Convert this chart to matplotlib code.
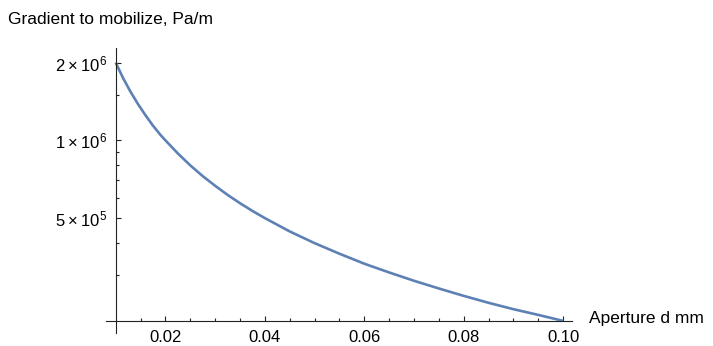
import numpy as np
import matplotlib
matplotlib.use("Agg")
import matplotlib.pyplot as plt
from matplotlib.ticker import FixedLocator, NullFormatter

plt.rcParams['font.family'] = ['Liberation Sans', 'DejaVu Sans']
plt.rcParams['mathtext.fontset'] = 'custom'
plt.rcParams['mathtext.rm'] = 'Liberation Sans'

# values
aperture = [0.010, 0.0115, 0.013, 0.0145, 0.016, 0.0175, 0.019, 0.020, 0.0225, 0.025,
            0.0275, 0.030, 0.0325, 0.035, 0.0375, 0.040, 0.045, 0.050, 0.055, 0.060,
            0.065, 0.070, 0.075, 0.080, 0.085, 0.090, 0.095, 0.100]
gradient = [2.00e6, 1.74e6, 1.54e6, 1.38e6, 1.25e6, 1.14e6, 1.05e6, 1.00e6, 8.9e5, 8.0e5,
            7.27e5, 6.67e5, 6.15e5, 5.71e5, 5.33e5, 5.00e5, 4.44e5, 4.00e5, 3.64e5, 3.33e5,
            3.08e5, 2.86e5, 2.67e5, 2.50e5, 2.35e5, 2.22e5, 2.11e5, 2.00e5]

x_major = [0.02, 0.04, 0.06, 0.08, 0.10]
x_major_labels = ['0.02', '0.04', '0.06', '0.08', '0.10']
x_minor = [0.015, 0.025, 0.03, 0.035, 0.045, 0.05, 0.055, 0.065, 0.07, 0.075, 0.085, 0.09, 0.095]
y_major = [5e5, 1e6, 2e6]
y_major_labels = [r'$\mathregular{5\times10^{5}}$', r'$\mathregular{1\times10^{6}}$',
                  r'$\mathregular{2\times10^{6}}$']
y_minor = [3e5, 4e5, 6e5, 7e5, 8e5, 9e5, 1.5e6]

fig = plt.figure(figsize=(7.13, 3.46), dpi=100)
ax = fig.add_axes([0.1482, 0.0376, 0.8018 - 0.1482, 0.8613 - 0.0376])

ax.plot(aperture, gradient, color='#5E81B5', lw=1.9, solid_capstyle='butt')

ax.set_yscale('log')
ax.set_xlim(0.00799, 0.1017)
ax.set_ylim(1.796e5, 2.277e6)

for s in ['top', 'right']:
    ax.spines[s].set_visible(False)
ax.spines['left'].set_position(('data', 0.01))
ax.spines['bottom'].set_position(('data', 2e5))
for s in ['left', 'bottom']:
    ax.spines[s].set_color('#222222')
    ax.spines[s].set_linewidth(0.8)

ax.xaxis.set_major_locator(FixedLocator(x_major))
ax.set_xticklabels(x_major_labels)
ax.xaxis.set_minor_locator(FixedLocator(x_minor))
ax.xaxis.set_minor_formatter(NullFormatter())
ax.yaxis.set_major_locator(FixedLocator(y_major))
ax.set_yticklabels(y_major_labels)
ax.yaxis.set_minor_locator(FixedLocator(y_minor))
ax.yaxis.set_minor_formatter(NullFormatter())

ax.tick_params(which='major', direction='in', length=3.6, width=0.8, color='#222222',
               labelsize=12, pad=6.5)
ax.tick_params(which='minor', direction='in', length=2.0, width=0.8, color='#222222')
ax.tick_params(axis='y', which='major', pad=6.5)

fig.text(8 / 713, 1 - 20 / 346, 'Gradient to mobilize, Pa/m', fontsize=12.5,
         ha='left', va='center')
fig.text(589 / 713, 1 - 318 / 346, 'Aperture d mm', fontsize=12.5,
         ha='left', va='center')

fig.savefig('out.png', dpi=100)
